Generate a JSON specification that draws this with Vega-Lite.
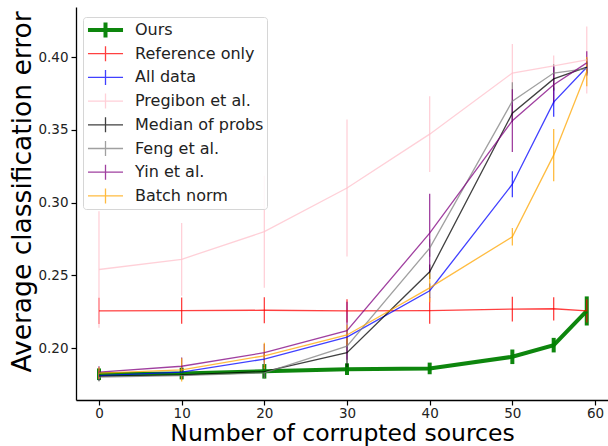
{
  "$schema": "https://vega.github.io/schema/vega-lite/v6.json",
  "width": 532,
  "height": 393,
  "autosize": {"type": "none"},
  "padding": {"left": 76, "top": 7, "right": 0, "bottom": 46},
  "config": {
    "view": {"stroke": null},
    "font": "DejaVu Sans",
    "axis": {
      "grid": false,
      "domainColor": "#000000",
      "domainWidth": 1.3,
      "tickColor": "#000000",
      "tickWidth": 1.2,
      "tickSize": 5,
      "labelFontSize": 13.5,
      "labelColor": "#222222",
      "titleFontWeight": "normal",
      "titleColor": "#000000"
    }
  },
  "data": {
    "values": [
      {"series": "Ours", "x": 0, "y": 0.182, "lo": 0.178, "hi": 0.186},
      {"series": "Ours", "x": 10, "y": 0.1825, "lo": 0.1785, "hi": 0.1865},
      {"series": "Ours", "x": 20, "y": 0.184, "lo": 0.179, "hi": 0.189},
      {"series": "Ours", "x": 30, "y": 0.1855, "lo": 0.1815, "hi": 0.1895},
      {"series": "Ours", "x": 40, "y": 0.186, "lo": 0.182, "hi": 0.190},
      {"series": "Ours", "x": 50, "y": 0.194, "lo": 0.189, "hi": 0.199},
      {"series": "Ours", "x": 55, "y": 0.202, "lo": 0.197, "hi": 0.207},
      {"series": "Ours", "x": 59, "y": 0.2255, "lo": 0.2155, "hi": 0.2355},

      {"series": "Reference only", "x": 0, "y": 0.2255, "lo": 0.2165, "hi": 0.2345},
      {"series": "Reference only", "x": 10, "y": 0.2257, "lo": 0.2167, "hi": 0.2347},
      {"series": "Reference only", "x": 20, "y": 0.226, "lo": 0.217, "hi": 0.235},
      {"series": "Reference only", "x": 30, "y": 0.2255, "lo": 0.2175, "hi": 0.2335},
      {"series": "Reference only", "x": 40, "y": 0.2257, "lo": 0.2167, "hi": 0.2347},
      {"series": "Reference only", "x": 50, "y": 0.2268, "lo": 0.2183, "hi": 0.2353},
      {"series": "Reference only", "x": 55, "y": 0.227, "lo": 0.219, "hi": 0.235},
      {"series": "Reference only", "x": 59, "y": 0.2255, "lo": 0.2175, "hi": 0.2335},

      {"series": "All data", "x": 0, "y": 0.181, "lo": 0.178, "hi": 0.184},
      {"series": "All data", "x": 10, "y": 0.1835, "lo": 0.1795, "hi": 0.1875},
      {"series": "All data", "x": 20, "y": 0.1924, "lo": 0.1884, "hi": 0.1964},
      {"series": "All data", "x": 30, "y": 0.2075, "lo": 0.2025, "hi": 0.2125},
      {"series": "All data", "x": 40, "y": 0.2394, "lo": 0.2344, "hi": 0.2444},
      {"series": "All data", "x": 50, "y": 0.3126, "lo": 0.3036, "hi": 0.3216},
      {"series": "All data", "x": 55, "y": 0.369, "lo": 0.359, "hi": 0.379},
      {"series": "All data", "x": 59, "y": 0.393, "lo": 0.387, "hi": 0.399},

      {"series": "Pregibon et al.", "x": 0, "y": 0.254, "lo": 0.214, "hi": 0.294},
      {"series": "Pregibon et al.", "x": 10, "y": 0.261, "lo": 0.236, "hi": 0.286},
      {"series": "Pregibon et al.", "x": 20, "y": 0.280, "lo": 0.2415, "hi": 0.3185},
      {"series": "Pregibon et al.", "x": 30, "y": 0.310, "lo": 0.263, "hi": 0.357},
      {"series": "Pregibon et al.", "x": 40, "y": 0.347, "lo": 0.321, "hi": 0.373},
      {"series": "Pregibon et al.", "x": 50, "y": 0.389, "lo": 0.369, "hi": 0.409},
      {"series": "Pregibon et al.", "x": 55, "y": 0.394, "lo": 0.387, "hi": 0.401},
      {"series": "Pregibon et al.", "x": 59, "y": 0.398, "lo": 0.375, "hi": 0.421},

      {"series": "Median of probs", "x": 0, "y": 0.1805, "lo": 0.1775, "hi": 0.1835},
      {"series": "Median of probs", "x": 10, "y": 0.1815, "lo": 0.1785, "hi": 0.1845},
      {"series": "Median of probs", "x": 20, "y": 0.1838, "lo": 0.1798, "hi": 0.1878},
      {"series": "Median of probs", "x": 30, "y": 0.1968, "lo": 0.1868, "hi": 0.2068},
      {"series": "Median of probs", "x": 40, "y": 0.2524, "lo": 0.2474, "hi": 0.2574},
      {"series": "Median of probs", "x": 50, "y": 0.3614, "lo": 0.3554, "hi": 0.3674},
      {"series": "Median of probs", "x": 55, "y": 0.385, "lo": 0.377, "hi": 0.393},
      {"series": "Median of probs", "x": 59, "y": 0.393, "lo": 0.389, "hi": 0.397},

      {"series": "Feng et al.", "x": 0, "y": 0.180, "lo": 0.177, "hi": 0.183},
      {"series": "Feng et al.", "x": 10, "y": 0.181, "lo": 0.178, "hi": 0.184},
      {"series": "Feng et al.", "x": 20, "y": 0.183, "lo": 0.179, "hi": 0.187},
      {"series": "Feng et al.", "x": 30, "y": 0.2013, "lo": 0.1953, "hi": 0.2073},
      {"series": "Feng et al.", "x": 40, "y": 0.2687, "lo": 0.2627, "hi": 0.2747},
      {"series": "Feng et al.", "x": 50, "y": 0.3697, "lo": 0.3567, "hi": 0.3827},
      {"series": "Feng et al.", "x": 55, "y": 0.389, "lo": 0.383, "hi": 0.395},
      {"series": "Feng et al.", "x": 59, "y": 0.392, "lo": 0.388, "hi": 0.396},

      {"series": "Yin et al.", "x": 0, "y": 0.1835, "lo": 0.1795, "hi": 0.1875},
      {"series": "Yin et al.", "x": 10, "y": 0.1875, "lo": 0.1815, "hi": 0.1935},
      {"series": "Yin et al.", "x": 20, "y": 0.1968, "lo": 0.1908, "hi": 0.2028},
      {"series": "Yin et al.", "x": 30, "y": 0.2119, "lo": 0.1919, "hi": 0.2319},
      {"series": "Yin et al.", "x": 40, "y": 0.279, "lo": 0.252, "hi": 0.306},
      {"series": "Yin et al.", "x": 50, "y": 0.3563, "lo": 0.3347, "hi": 0.3779},
      {"series": "Yin et al.", "x": 55, "y": 0.381, "lo": 0.368, "hi": 0.394},
      {"series": "Yin et al.", "x": 59, "y": 0.396, "lo": 0.388, "hi": 0.404},

      {"series": "Batch norm", "x": 0, "y": 0.1828, "lo": 0.1788, "hi": 0.1868},
      {"series": "Batch norm", "x": 10, "y": 0.185, "lo": 0.177, "hi": 0.193},
      {"series": "Batch norm", "x": 20, "y": 0.1947, "lo": 0.1857, "hi": 0.2037},
      {"series": "Batch norm", "x": 30, "y": 0.209, "lo": 0.202, "hi": 0.216},
      {"series": "Batch norm", "x": 40, "y": 0.2414, "lo": 0.2314, "hi": 0.2514},
      {"series": "Batch norm", "x": 50, "y": 0.2765, "lo": 0.2705, "hi": 0.2825},
      {"series": "Batch norm", "x": 55, "y": 0.3326, "lo": 0.3146, "hi": 0.3506},
      {"series": "Batch norm", "x": 59, "y": 0.390, "lo": 0.380, "hi": 0.400}
    ]
  },
  "encoding": {
    "x": {
      "field": "x",
      "type": "quantitative",
      "scale": {"domain": [-2.78, 61.57], "nice": false, "zero": false},
      "axis": {
        "title": "Number of corrupted sources",
        "titleFontSize": 23.5,
        "values": [0, 10, 20, 30, 40, 50, 60],
        "format": "d",
        "labelPadding": 1,
        "titleY": 40.5,
        "titleBaseline": "alphabetic"
      }
    },
    "stroke": {
      "field": "series",
      "type": "nominal",
      "scale": {
        "domain": ["Ours", "Reference only", "All data", "Pregibon et al.", "Median of probs", "Feng et al.", "Yin et al.", "Batch norm"],
        "range": ["#008000", "#ff0000", "#0000ff", "#ffc0cb", "#000000", "#808080", "#800080", "#ffa500"]
      },
      "legend": {
        "title": null,
        "orient": "none",
        "legendX": 7,
        "legendY": 10,
        "fillColor": "rgba(255,255,255,0.85)",
        "strokeColor": "#d6d6d6",
        "cornerRadius": 3,
        "padding": 3,
        "labelFontSize": 16,
        "labelColor": "#222222",
        "symbolType": "M-2.92,0H2.92M0,-1.25V1.25",
        "symbolSize": 144,
        "symbolOffset": 11.5,
        "labelOffset": 21.5,
        "symbolFillColor": "transparent",
        "clipHeight": 20,
        "rowPadding": 3.7,
        "zindex": 5,
        "encode": {
          "symbols": {
            "update": {
              "strokeWidth": {"signal": "datum.value === 'Ours' ? 4 : 1.3"},
              "opacity": {"signal": "datum.value === 'Ours' ? 0.95 : 0.75"}
            }
          }
        }
      }
    },
    "strokeWidth": {
      "condition": {"test": "datum.series === 'Ours'", "value": 4},
      "value": 1.3
    },
    "strokeOpacity": {
      "condition": {"test": "datum.series === 'Ours'", "value": 0.95},
      "value": 0.75
    }
  },
  "layer": [
    {
      "mark": {"type": "rule"},
      "encoding": {
        "y": {
          "field": "lo",
          "type": "quantitative",
          "scale": {"domain": [0.1643, 0.4344], "nice": false, "zero": false}
        },
        "y2": {"field": "hi"}
      }
    },
    {
      "mark": {"type": "line"},
      "encoding": {
        "y": {
          "field": "y",
          "type": "quantitative",
          "scale": {"domain": [0.1643, 0.4344], "nice": false, "zero": false},
          "axis": {
            "title": "Average classification error",
            "titleFontSize": 26.5,
            "values": [0.2, 0.25, 0.3, 0.35, 0.4],
            "format": ".2f",
            "labelPadding": 3,
            "titleX": -46,
            "titleY": 184.5,
            "titleBaseline": "alphabetic"
          }
        }
      }
    }
  ]
}
